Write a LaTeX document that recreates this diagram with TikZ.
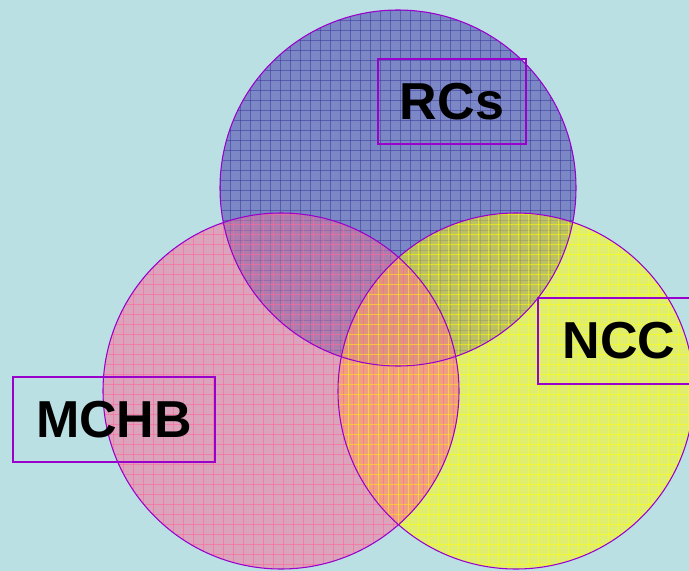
\documentclass[tikz,border=0pt]{standalone}
\usepackage{fontspec}
\setmainfont{Liberation Sans}
\begin{document}
\begin{tikzpicture}[x=0.75pt,y=-0.75pt]
\definecolor{bgc}{HTML}{BBE0E3}
\definecolor{bA}{HTML}{7C87C5}
\definecolor{pA}{HTML}{DCA3BD}
\definecolor{yA}{HTML}{E0EE70}
\definecolor{bp}{HTML}{9D6CA9}
\definecolor{by}{HTML}{B3B35C}
\definecolor{py}{HTML}{F0A080}
\definecolor{bpy}{HTML}{E0937F}
\definecolor{bL}{HTML}{333399}
\definecolor{pL}{HTML}{FF6699}
\definecolor{yL}{HTML}{FFFF00}
\definecolor{edge}{HTML}{9900CC}
\tikzset{
  gridline/.style={line width=0.75pt},
  labelbox/.style={draw=edge, line width=1.5pt, inner sep=0pt, font=\fontsize{39}{39}\selectfont\bfseries},
  rim/.style={draw=edge, line width=0.8pt}
}
\useasboundingbox (0,0) rectangle (689,571);
\fill[bgc] (0,0) rectangle (689,571);
\coordinate (cb) at (398,188);
\coordinate (cp) at (281,391);
\coordinate (cy) at (516,391);
\def\R{178}
% single fills
\fill[bA] (cb) circle[radius=\R];
\fill[pA] (cp) circle[radius=\R];
\fill[yA] (cy) circle[radius=\R];
% blue grid
\begin{scope}
  \clip (cb) circle[radius=\R];
  \foreach \k in {0,...,36} {
    \draw[gridline, bL, draw opacity=0.5] (220+10*\k,5) -- (220+10*\k,370);
    \draw[gridline, bL, draw opacity=0.5] (215,10+10*\k) -- (580,10+10*\k);
  }
\end{scope}
% pair overlaps (semi-opaque, dim the blue grid below)
\begin{scope}
  \clip (cb) circle[radius=\R];
  \fill[bp, fill opacity=0.7] (cp) circle[radius=\R];
  \fill[by, fill opacity=0.75] (cy) circle[radius=\R];
\end{scope}
\begin{scope}
  \clip (cp) circle[radius=\R];
  \fill[py] (cy) circle[radius=\R];
  \clip (cy) circle[radius=\R];
  \fill[bpy] (cb) circle[radius=\R];
\end{scope}
% pink grid
\begin{scope}
  \clip (cp) circle[radius=\R];
  \foreach \k in {0,...,36} {
    \draw[gridline, pL, draw opacity=0.6] (103+10*\k,210) -- (103+10*\k,571);
    \draw[gridline, pL, draw opacity=0.6] (100,214+10*\k) -- (460,214+10*\k);
  }
\end{scope}
% yellow grid
\begin{scope}
  \clip (cy) circle[radius=\R];
  \foreach \k in {0,...,36} {
    \draw[gridline, yL, draw opacity=0.55] (338+10*\k,210) -- (338+10*\k,571);
    \draw[gridline, yL, draw opacity=0.55] (335,214+10*\k) -- (700,214+10*\k);
  }
\end{scope}
% rims
\draw[rim] (cb) circle[radius=\R];
\draw[rim] (cp) circle[radius=\R];
\draw[rim] (cy) circle[radius=\R];
% label boxes
\node[labelbox, minimum width=111pt, minimum height=63.75pt] (rcs) at (452,101.5) {RCs};
\node[labelbox, minimum width=121.5pt, minimum height=64.5pt] (ncc) at (619,341) {NCC};
\node[labelbox, minimum width=151.5pt, minimum height=63.75pt] (mchb) at (114,419.5) {MCHB};
\end{tikzpicture}
\end{document}
